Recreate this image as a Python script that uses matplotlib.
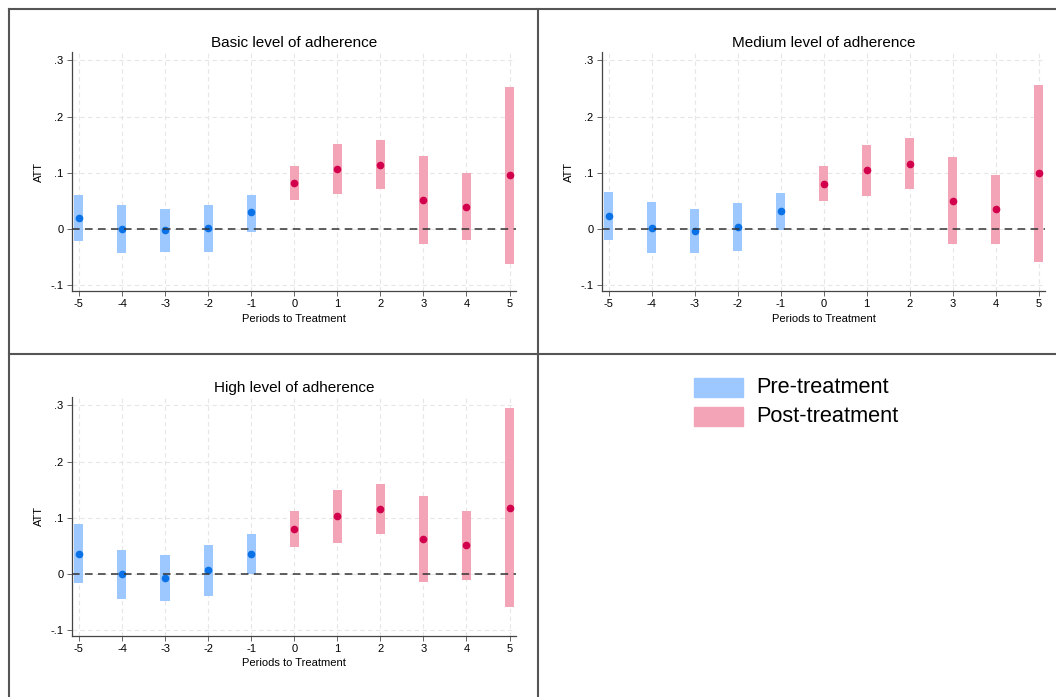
import matplotlib
matplotlib.use("Agg")
import matplotlib.pyplot as plt
from matplotlib.lines import Line2D
from matplotlib.patches import Rectangle

plt.rcParams['font.family'] = ['Liberation Sans', 'DejaVu Sans']

# Event-study estimates
periods = [-5, -4, -3, -2, -1, 0, 1, 2, 3, 4, 5]

basic_est = [0.020, 0.000, -0.003, 0.001, 0.029, 0.082, 0.107, 0.114, 0.051, 0.039, 0.095]
basic_lo = [-0.021, -0.043, -0.042, -0.042, -0.005, 0.051, 0.062, 0.070, -0.027, -0.020, -0.062]
basic_hi = [0.061, 0.043, 0.035, 0.043, 0.061, 0.112, 0.151, 0.159, 0.129, 0.099, 0.252]

medium_est = [0.023, 0.001, -0.004, 0.003, 0.031, 0.080, 0.104, 0.115, 0.049, 0.035, 0.099]
medium_lo = [-0.020, -0.043, -0.043, -0.039, -0.003, 0.049, 0.058, 0.070, -0.028, -0.027, -0.059]
medium_hi = [0.065, 0.047, 0.035, 0.046, 0.064, 0.111, 0.149, 0.161, 0.127, 0.096, 0.256]

high_est = [0.035, -0.001, -0.008, 0.006, 0.035, 0.080, 0.103, 0.115, 0.062, 0.051, 0.117]
high_lo = [-0.017, -0.045, -0.049, -0.039, 0.000, 0.048, 0.055, 0.071, -0.014, -0.012, -0.060]
high_hi = [0.088, 0.043, 0.033, 0.051, 0.071, 0.111, 0.150, 0.160, 0.139, 0.112, 0.295]

titles = ['Basic level of adherence', 'Medium level of adherence', 'High level of adherence']
y_ticks = [-0.1, 0, 0.1, 0.2, 0.3]
y_tick_labels = ['-.1', '0', '.1', '.2', '.3']
legend_labels = ['Pre-treatment', 'Post-treatment']

# Colours
PRE_BAR = '#9dc8ff'
PRE_DOT = '#0a72e6'
POST_BAR = '#f4a4b7'
POST_DOT = '#d2004c'
FRAME = '#555555'

W, H = 1056, 697


def draw_panel(ax, title, est, lo, hi):
    pre = [i for i, p in enumerate(periods) if p < 0]
    post = [i for i, p in enumerate(periods) if p >= 0]
    for idx, bar_c, dot_c in [(pre, PRE_BAR, PRE_DOT), (post, POST_BAR, POST_DOT)]:
        xs = [periods[i] for i in idx]
        ax.bar(xs, [hi[i] - lo[i] for i in idx], bottom=[lo[i] for i in idx],
               width=0.21, color=bar_c, zorder=2)
        ax.plot(xs, [est[i] for i in idx], 'o', color=dot_c, ms=4.5, zorder=3)

    ax.axhline(0, color='#333333', lw=1.1, ls=(0, (5, 3.5)), zorder=4)

    ax.set_xlim(-5.16, 5.15)
    ax.set_ylim(-0.111, 0.315)
    ax.set_xticks(periods, labels=[str(p) for p in periods])
    ax.set_yticks(y_ticks, labels=y_tick_labels)
    ax.grid(True, color='#e6e6e6', lw=0.8, ls=(0, (4, 3)), zorder=0)
    ax.set_axisbelow(True)

    for side in ['top', 'right']:
        ax.spines[side].set_visible(False)
    for side in ['left', 'bottom']:
        ax.spines[side].set_color('#444444')
        ax.spines[side].set_linewidth(0.9)
    ax.tick_params(labelsize=8, length=3.5, width=0.7, color='#666666', pad=2.5)

    ax.set_title(title, fontsize=11, pad=3.5)
    ax.set_xlabel('Periods to Treatment', fontsize=8, labelpad=3)
    ax.set_ylabel('ATT', fontsize=8, labelpad=5)


fig = plt.figure(figsize=(W / 100, H / 100), dpi=100)


def px_axes(left, top, right, bottom):
    return fig.add_axes([left / W, 1 - bottom / H, (right - left) / W, (bottom - top) / H])


ax1 = px_axes(72, 52, 516, 291)
ax2 = px_axes(602, 52, 1045, 291)
ax3 = px_axes(72, 397, 516, 636)

draw_panel(ax1, titles[0], basic_est, basic_lo, basic_hi)
draw_panel(ax2, titles[1], medium_est, medium_lo, medium_hi)
draw_panel(ax3, titles[2], high_est, high_lo, high_hi)

# grid frame around the panels
for xs, ys in [([9, 9], [9, H]), ([538, 538], [9, H]),
               ([9, W], [9, 9]), ([9, W], [354, 354])]:
    fig.add_artist(Line2D([x / W for x in xs], [1 - y / H for y in ys],
                          color=FRAME, lw=1.5))

# legend in the empty panel
for (top, color, label) in [(378, PRE_BAR, legend_labels[0]), (407, POST_BAR, legend_labels[1])]:
    fig.add_artist(Rectangle((694 / W, 1 - (top + 18.5) / H), 49 / W, 18.5 / H,
                             color=color, transform=fig.transFigure))
    fig.text(756 / W, 1 - (top + 9.5) / H, label, fontsize=15.7, va='center', ha='left')

fig.savefig('out.png', dpi=100)
